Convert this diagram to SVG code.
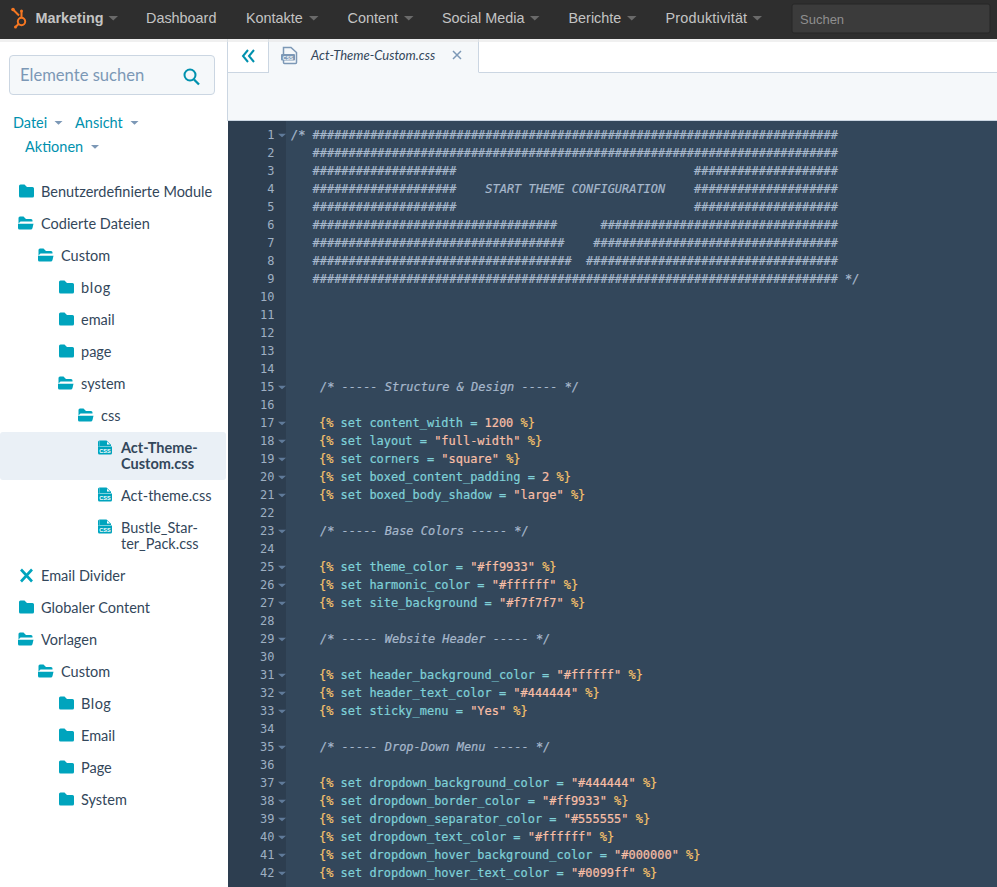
<svg xmlns="http://www.w3.org/2000/svg" width="997" height="887" viewBox="0 0 997 887">
<style>
.nav{font-family:"Liberation Sans",Arial,sans-serif;font-size:14.4px;fill:#c4c4c4}
.side{font-family:Lato,"Open Sans",sans-serif;font-size:14.5px;fill:#33475b}
.link{font-family:Lato,"Open Sans",sans-serif;font-size:14.5px;fill:#0091ae}
.c{font-family:"DejaVu Sans Mono","Liberation Mono",monospace;font-size:11.96px;white-space:pre;fill:#7fd1d8;stroke:#7fd1d8;stroke-width:.2px}
.m{fill:#a7b8cc;stroke:#a7b8cc;font-style:italic}
.o{fill:#f5c26b;stroke:#f5c26b}
.s{fill:#f8bfa6;stroke:#f8bfa6}
.n{font-family:"DejaVu Sans Mono","Liberation Mono",monospace;font-size:11.96px;fill:#9fb0c3;text-anchor:end}
.f{fill:#5f7a99}
.a{fill:#6a6a6a}
.t{fill:#00a4bd}
</style>
<defs>
<path id="closed" d="M0 1.5Q0 0 1.5 0H5.5L8 2.5H13.5Q15 2.5 15 4V11.5Q15 13 13.5 13H1.5Q0 13 0 11.5Z" class="t"/>
<g id="open"><path d="M0.5 1.5Q0.5 0 2 0H5.5L8 2.5H13Q14.5 2.5 14.5 4V5H2.5L0.5 7Z" class="t"/><path d="M0 7.2H15.5L14.5 11.5Q14.2 13 12.7 13H1.5Q0 13 0 11.5Z" class="t"/></g>
<g id="cssf"><path d="M1.5 0H8.5L13 4.2V5.5H1.5Z M0 6H14V12.5Q14 14 12.5 14H1.5Q0 14 0 12.5Z" class="t"/><path d="M0 1.5Q0 0 1.5 0V6H0Z" class="t"/><path d="M9 1.2V4H12Z" fill="#fff"/><text x="7" y="12.3" font-family="Liberation Sans,sans-serif" font-size="5.5" font-weight="700" fill="#fff" text-anchor="middle">CSS</text></g>
<path id="tri" d="M0 0H9.5L4.75 4.5Z" class="a"/>
<path id="ltri" d="M0 0H8L4 3.8Z" fill="#7c98b6"/>
<path id="fold" d="M0 0H8L4 3.6Z" class="f"/>
</defs>

<rect width="997" height="887" fill="#fff"/>

<g id="editor-top">
<rect x="228" y="39" width="769" height="34" fill="#fff"/>
<rect x="228" y="73" width="769" height="48" fill="#f5f8fa"/>
<path d="M228 72.500H997" stroke="#cbd6e2"/>
<path d="M227.500 39V121" stroke="#cbd6e2"/>
</g>
<g id="tab">
<rect x="269" y="39" width="210" height="34" fill="#f5f8fa"/>
<path d="M268.500 39V72.500M478.500 39V72.500" stroke="#cbd6e2" fill="none"/>
<path d="M248 50L243 56L248 62M254 50L249 56L254 62" stroke="#0091ae" stroke-width="2" fill="none"/>
<path d="M283.500 47.500H291L296.500 52.500V62.500Q296.500 63.500 295.500 63.500H284.500Q283.500 63.500 283.500 62.500Z" fill="none" stroke="#7c98b6" stroke-width="1.500"/>
<rect x="281" y="54" width="14" height="6.500" rx="1" fill="#7c98b6"/>
<text x="288" y="59.500" font-family="Liberation Sans,sans-serif" font-size="5" font-weight="700" fill="#f5f8fa" text-anchor="middle">CSS</text>
<text x="311" y="59.500" font-family="Lato,sans-serif" font-size="13" font-style="italic" fill="#33475b">Act-Theme-Custom.css</text>
<path d="M453 51L461 59M461 51L453 59" stroke="#7c98b6" stroke-width="1.500" fill="none"/>
</g>

<g id="code-panel">
<rect x="228" y="121" width="769" height="766" fill="#33475b"/>
<rect x="228" y="121" width="58" height="766" fill="#2d3e50"/>
<path d="M228 120.500H997" stroke="#cbd6e2"/>
</g>

<g id="line-numbers" transform="translate(0 .7)">
<text class="n" x="274.500" y="138">1</text><text class="n" x="274.500" y="156">2</text><text class="n" x="274.500" y="174">3</text><text class="n" x="274.500" y="192">4</text><text class="n" x="274.500" y="210">5</text><text class="n" x="274.500" y="228">6</text><text class="n" x="274.500" y="246">7</text><text class="n" x="274.500" y="264">8</text><text class="n" x="274.500" y="282">9</text><text class="n" x="274.500" y="300">10</text><text class="n" x="274.500" y="318">11</text><text class="n" x="274.500" y="336">12</text><text class="n" x="274.500" y="354">13</text><text class="n" x="274.500" y="372">14</text><text class="n" x="274.500" y="390">15</text><text class="n" x="274.500" y="408">16</text><text class="n" x="274.500" y="426">17</text><text class="n" x="274.500" y="444">18</text><text class="n" x="274.500" y="462">19</text><text class="n" x="274.500" y="480">20</text><text class="n" x="274.500" y="498">21</text><text class="n" x="274.500" y="516">22</text><text class="n" x="274.500" y="534">23</text><text class="n" x="274.500" y="552">24</text><text class="n" x="274.500" y="570">25</text><text class="n" x="274.500" y="588">26</text><text class="n" x="274.500" y="606">27</text><text class="n" x="274.500" y="624">28</text><text class="n" x="274.500" y="642">29</text><text class="n" x="274.500" y="660">30</text><text class="n" x="274.500" y="678">31</text><text class="n" x="274.500" y="696">32</text><text class="n" x="274.500" y="714">33</text><text class="n" x="274.500" y="732">34</text><text class="n" x="274.500" y="750">35</text><text class="n" x="274.500" y="768">36</text><text class="n" x="274.500" y="786">37</text><text class="n" x="274.500" y="804">38</text><text class="n" x="274.500" y="822">39</text><text class="n" x="274.500" y="840">40</text><text class="n" x="274.500" y="858">41</text><text class="n" x="274.500" y="876">42</text>
<use href="#fold" x="278" y="133"/><use href="#fold" x="278" y="385"/><use href="#fold" x="278" y="421"/><use href="#fold" x="278" y="439"/><use href="#fold" x="278" y="457"/><use href="#fold" x="278" y="475"/><use href="#fold" x="278" y="493"/><use href="#fold" x="278" y="529"/><use href="#fold" x="278" y="565"/><use href="#fold" x="278" y="583"/><use href="#fold" x="278" y="601"/><use href="#fold" x="278" y="637"/><use href="#fold" x="278" y="673"/><use href="#fold" x="278" y="691"/><use href="#fold" x="278" y="709"/><use href="#fold" x="278" y="745"/><use href="#fold" x="278" y="781"/><use href="#fold" x="278" y="799"/><use href="#fold" x="278" y="817"/><use href="#fold" x="278" y="835"/><use href="#fold" x="278" y="853"/><use href="#fold" x="278" y="871"/>
</g>

<g id="code" transform="translate(0 .7)">
<text class="c m" x="291" y="138">/* #########################################################################</text>
<text class="c m" x="291" y="156">   #########################################################################</text>
<text class="c m" x="291" y="174">   ####################                                 ####################</text>
<text class="c m" x="291" y="192">   ####################    START THEME CONFIGURATION    ####################</text>
<text class="c m" x="291" y="210">   ####################                                 ####################</text>
<text class="c m" x="291" y="228">   ##################################      #################################</text>
<text class="c m" x="291" y="246">   ###################################    ##################################</text>
<text class="c m" x="291" y="264">   ####################################  ###################################</text>
<text class="c m" x="291" y="282">   ######################################################################### */</text>
<text class="c m" x="320" y="390">/* ----- Structure &amp; Design ----- */</text>
<text class="c" x="319" y="426"><tspan class="o">{%</tspan> set content_width = <tspan class="s">1200</tspan> <tspan class="o">%}</tspan></text>
<text class="c" x="319" y="444"><tspan class="o">{%</tspan> set layout = <tspan class="s">"full-width"</tspan> <tspan class="o">%}</tspan></text>
<text class="c" x="319" y="462"><tspan class="o">{%</tspan> set corners = <tspan class="s">"square"</tspan> <tspan class="o">%}</tspan></text>
<text class="c" x="319" y="480"><tspan class="o">{%</tspan> set boxed_content_padding = <tspan class="s">2</tspan> <tspan class="o">%}</tspan></text>
<text class="c" x="319" y="498"><tspan class="o">{%</tspan> set boxed_body_shadow = <tspan class="s">"large"</tspan> <tspan class="o">%}</tspan></text>
<text class="c m" x="320" y="534">/* ----- Base Colors ----- */</text>
<text class="c" x="319" y="570"><tspan class="o">{%</tspan> set theme_color = <tspan class="s">"#ff9933"</tspan> <tspan class="o">%}</tspan></text>
<text class="c" x="319" y="588"><tspan class="o">{%</tspan> set harmonic_color = <tspan class="s">"#ffffff"</tspan> <tspan class="o">%}</tspan></text>
<text class="c" x="319" y="606"><tspan class="o">{%</tspan> set site_background = <tspan class="s">"#f7f7f7"</tspan> <tspan class="o">%}</tspan></text>
<text class="c m" x="320" y="642">/* ----- Website Header ----- */</text>
<text class="c" x="319" y="678"><tspan class="o">{%</tspan> set header_background_color = <tspan class="s">"#ffffff"</tspan> <tspan class="o">%}</tspan></text>
<text class="c" x="319" y="696"><tspan class="o">{%</tspan> set header_text_color = <tspan class="s">"#444444"</tspan> <tspan class="o">%}</tspan></text>
<text class="c" x="319" y="714"><tspan class="o">{%</tspan> set sticky_menu = <tspan class="s">"Yes"</tspan> <tspan class="o">%}</tspan></text>
<text class="c m" x="320" y="750">/* ----- Drop-Down Menu ----- */</text>
<text class="c" x="319" y="786"><tspan class="o">{%</tspan> set dropdown_background_color = <tspan class="s">"#444444"</tspan> <tspan class="o">%}</tspan></text>
<text class="c" x="319" y="804"><tspan class="o">{%</tspan> set dropdown_border_color = <tspan class="s">"#ff9933"</tspan> <tspan class="o">%}</tspan></text>
<text class="c" x="319" y="822"><tspan class="o">{%</tspan> set dropdown_separator_color = <tspan class="s">"#555555"</tspan> <tspan class="o">%}</tspan></text>
<text class="c" x="319" y="840"><tspan class="o">{%</tspan> set dropdown_text_color = <tspan class="s">"#ffffff"</tspan> <tspan class="o">%}</tspan></text>
<text class="c" x="319" y="858"><tspan class="o">{%</tspan> set dropdown_hover_background_color = <tspan class="s">"#000000"</tspan> <tspan class="o">%}</tspan></text>
<text class="c" x="319" y="876"><tspan class="o">{%</tspan> set dropdown_hover_text_color = <tspan class="s">"#0099ff"</tspan> <tspan class="o">%}</tspan></text>
</g>

<g id="sidebar">
<rect x="9.500" y="55.500" width="205" height="39" rx="3.500" fill="#f5f8fa" stroke="#cbd6e2"/>
<text x="20" y="81" font-family="Lato,sans-serif" font-size="16.600" fill="#7c98b6">Elemente suchen</text>
<circle cx="190" cy="75" r="5.500" fill="none" stroke="#0091ae" stroke-width="2"/><path d="M194 79.500L199 84.500" stroke="#0091ae" stroke-width="2.300"/>
<text class="link" x="13" y="127.500">Datei</text><use href="#ltri" x="54.500" y="121"/>
<text class="link" x="75" y="127.500">Ansicht</text><use href="#ltri" x="130.500" y="121"/>
<text class="link" x="25" y="151.500">Aktionen</text><use href="#ltri" x="91" y="145"/>
<rect x="0" y="432" width="226" height="48" rx="3" fill="#eaf0f6"/>
</g>
<g id="tree" transform="translate(0 .5)">
<g id="node-benutzerdefinierte-module"><use href="#closed" x="19" y="184"/><text class="side" x="41" y="196">Benutzerdefinierte Module</text></g>
<g id="node-codierte-dateien"><use href="#open" x="18" y="216"/><text class="side" x="41" y="228">Codierte Dateien</text></g>
<g id="node-custom"><use href="#open" x="38" y="248"/><text class="side" x="61" y="260">Custom</text></g>
<g id="node-blog"><use href="#closed" x="59" y="280"/><text class="side" x="81" y="292" letter-spacing=".7">blog</text></g>
<g id="node-email"><use href="#closed" x="59" y="312"/><text class="side" x="81" y="324">email</text></g>
<g id="node-page"><use href="#closed" x="59" y="344"/><text class="side" x="81" y="356">page</text></g>
<g id="node-system"><use href="#open" x="58" y="376"/><text class="side" x="81" y="388">system</text></g>
<g id="node-css"><use href="#open" x="78" y="408"/><text class="side" x="101" y="420">css</text></g>
<g id="node-act-theme-custom"><use href="#cssf" x="98" y="440"/><text class="side" font-weight="700" x="121" y="452">Act-Theme-</text><text class="side" font-weight="700" x="121" y="468">Custom.css</text></g>
<g id="node-act-theme"><use href="#cssf" x="98" y="487"/><text class="side" x="121" y="500">Act-theme.css</text></g>
<g id="node-bustle"><use href="#cssf" x="98" y="519"/><text class="side" x="121" y="532">Bustle_Star-</text><text class="side" x="121" y="548">ter_Pack.css</text></g>
<g id="node-email-divider"><path d="M21 569L32 581M32 569L21 581" stroke="#00a4bd" stroke-width="2.600" fill="none"/><text class="side" x="41" y="580">Email Divider</text></g>
<g id="node-globaler-content"><use href="#closed" x="19" y="600"/><text class="side" x="41" y="612">Globaler Content</text></g>
<g id="node-vorlagen"><use href="#open" x="18" y="632"/><text class="side" x="41" y="644">Vorlagen</text></g>
<g id="node-vorlagen-custom"><use href="#open" x="38" y="664"/><text class="side" x="61" y="676">Custom</text></g>
<g id="node-blog2"><use href="#closed" x="59" y="696"/><text class="side" x="81" y="708" letter-spacing=".5">Blog</text></g>
<g id="node-email2"><use href="#closed" x="59" y="728"/><text class="side" x="81" y="740">Email</text></g>
<g id="node-page2"><use href="#closed" x="59" y="760"/><text class="side" x="81" y="772">Page</text></g>
<g id="node-system2"><use href="#closed" x="59" y="792"/><text class="side" x="81" y="804">System</text></g>
</g>

<g id="top-nav">
<rect x="0" y="39" width="997" height="3" fill="#e6e6e6" opacity=".6"/>
<rect width="997" height="39" fill="#2e2e2e"/>
<g stroke="#f57722" fill="none" stroke-width="2"><circle cx="21.500" cy="21.500" r="3.700"/><path d="M13 9.500L19 15.500M21.500 17.500V11.500M18.500 24L16 26.500"/></g>
<circle cx="13" cy="9.500" r="1.800" fill="#f57722"/><circle cx="21.500" cy="11" r="1.500" fill="#f57722"/><circle cx="15.500" cy="27" r="1.500" fill="#f57722"/>
<text class="nav" x="35.500" y="23" font-weight="700">Marketing</text><use href="#tri" x="108.500" y="16"/>
<text class="nav" x="146" y="23">Dashboard</text>
<text class="nav" x="246" y="23">Kontakte</text><use href="#tri" x="309" y="16"/>
<text class="nav" x="347.500" y="23">Content</text><use href="#tri" x="404" y="16"/>
<text class="nav" x="442" y="23">Social Media</text><use href="#tri" x="530" y="16"/>
<text class="nav" x="568.500" y="23">Berichte</text><use href="#tri" x="627" y="16"/>
<text class="nav" x="665.500" y="23" letter-spacing=".2">Produktivität</text><use href="#tri" x="752.500" y="16"/>
<rect x="792" y="4" width="198" height="29" rx="2" fill="#3b3b3b" stroke="#272727"/>
<text x="800" y="24" font-family="Liberation Sans,sans-serif" font-size="13" fill="#8f8f8f">Suchen</text>
</g>
</svg>
